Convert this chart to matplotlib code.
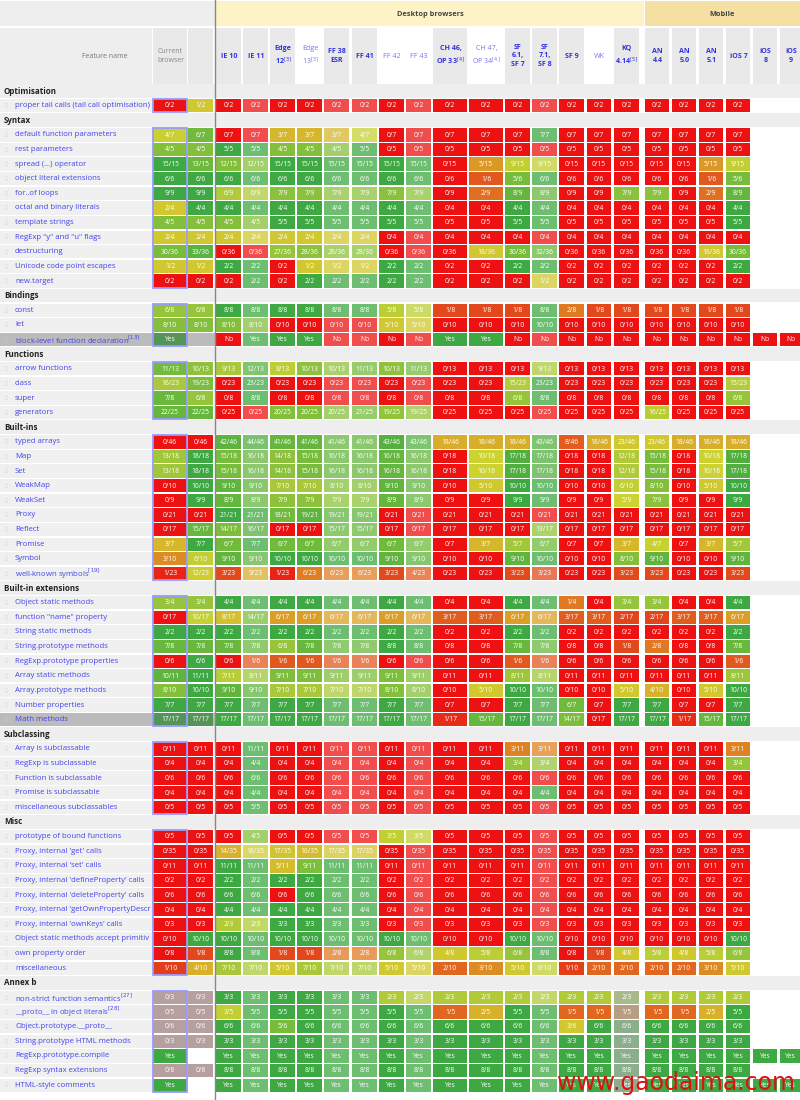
import matplotlib
matplotlib.use("Agg")
import matplotlib.pyplot as plt
from matplotlib.patches import Rectangle
import numpy as np
from matplotlib.colors import to_rgb

FONT = "Open Sans"

columns = ["Current\nbrowser", "", "IE 10", "IE 11", "Edge\n12[3]", "Edge\n13[3]", "FF 38\nESR", "FF 41",
           "FF 42", "FF 43", "CH 46,\nOP 33[4]", "CH 47,\nOP 34[4]", "SF\n6.1,\nSF 7", "SF\n7.1,\nSF 8",
           "SF 9", "WK", "KQ\n4.14[5]", "AN\n4.4", "AN\n5.0", "AN\n5.1", "iOS 7", "iOS\n8", "iOS\n9"]
light_header = {"Edge\n13[3]", "FF 42", "FF 43", "CH 47,\nOP 34[4]", "WK"}
light_cols = {3, 6, 7, 9, 13}

sections = ["Optimisation", "Syntax", "Bindings", "Functions", "Built-ins",
            "Built-in extensions", "Subclassing", "Misc", "Annex b"]

features = {
"Optimisation": ["proper tail calls (tail call optimisation)"],
"Syntax": ["default function parameters", "rest parameters", "spread (...) operator", "object literal extensions",
           "for..of loops", "octal and binary literals", "template strings", "RegExp \"y\" and \"u\" flags",
           "destructuring", "Unicode code point escapes", "new.target"],
"Bindings": ["const", "let", "block-level function declaration[13]"],
"Functions": ["arrow functions", "class", "super", "generators"],
"Built-ins": ["typed arrays", "Map", "Set", "WeakMap", "WeakSet", "Proxy", "Reflect", "Promise", "Symbol",
              "well-known symbols[19]"],
"Built-in extensions": ["Object static methods", "function \"name\" property", "String static methods",
                        "String.prototype methods", "RegExp.prototype properties", "Array static methods",
                        "Array.prototype methods", "Number properties", "Math methods"],
"Subclassing": ["Array is subclassable", "RegExp is subclassable", "Function is subclassable",
                "Promise is subclassable", "miscellaneous subclassables"],
"Misc": ["prototype of bound functions", "Proxy, internal 'get' calls", "Proxy, internal 'set' calls",
         "Proxy, internal 'defineProperty' calls", "Proxy, internal 'deleteProperty' calls",
         "Proxy, internal 'getOwnPropertyDescr", "Proxy, internal 'ownKeys' calls",
         "Object static methods accept primitiv", "own property order", "miscellaneous"],
"Annex b": ["non-strict function semantics[27]", "__proto__ in object literals[28]", "Object.prototype.__proto__",
            "String.prototype HTML methods", "RegExp.prototype.compile", "RegExp syntax extensions",
            "HTML-style comments"],
}

results = {
"Optimisation": [
 "0/2 1/2 0/2 0/2 0/2 0/2 0/2 0/2 0/2 0/2 0/2 0/2 0/2 0/2 0/2 0/2 0/2 0/2 0/2 0/2 0/2 - -"],
"Syntax": [
 "4/7 6/7 0/7 0/7 3/7 3/7 3/7 4/7 0/7 0/7 0/7 0/7 0/7 7/7 0/7 0/7 0/7 0/7 0/7 0/7 0/7 - -",
 "4/5 4/5 5/5 5/5 4/5 4/5 4/5 5/5 0/5 0/5 0/5 0/5 0/5 0/5 0/5 0/5 0/5 0/5 0/5 0/5 0/5 - -",
 "15/15 13/15 12/15 12/15 15/15 15/15 15/15 15/15 15/15 15/15 0/15 5/15 9/15 9/15 0/15 0/15 0/15 0/15 0/15 5/15 9/15 - -",
 "6/6 6/6 6/6 6/6 6/6 6/6 6/6 6/6 6/6 6/6 0/6 1/6 5/6 6/6 0/6 0/6 0/6 0/6 0/6 1/6 5/6 - -",
 "9/9 9/9 6/9 6/9 7/9 7/9 7/9 7/9 7/9 7/9 0/9 2/9 8/9 8/9 0/9 0/9 7/9 7/9 0/9 2/9 8/9 - -",
 "2/4 4/4 4/4 4/4 4/4 4/4 4/4 4/4 4/4 4/4 0/4 0/4 4/4 4/4 0/4 0/4 0/4 0/4 0/4 0/4 4/4 - -",
 "4/5 4/5 4/5 4/5 5/5 5/5 5/5 5/5 5/5 5/5 0/5 0/5 5/5 5/5 0/5 0/5 0/5 0/5 0/5 0/5 5/5 - -",
 "2/4 2/4 2/4 2/4 2/4 2/4 2/4 2/4 0/4 0/4 0/4 0/4 0/4 0/4 0/4 0/4 0/4 0/4 0/4 0/4 0/4 - -",
 "30/36 33/36 0/36 0/36 27/36 28/36 28/36 28/36 0/36 0/36 0/36 18/36 30/36 32/36 0/36 0/36 0/36 0/36 0/36 18/36 30/36 - -",
 "1/2 1/2 2/2 2/2 0/2 1/2 1/2 1/2 2/2 2/2 0/2 0/2 2/2 2/2 0/2 0/2 0/2 0/2 0/2 0/2 2/2 - -",
 "0/2 0/2 0/2 2/2 0/2 2/2 2/2 2/2 2/2 2/2 0/2 0/2 0/2 1/2 0/2 0/2 0/2 0/2 0/2 0/2 0/2 - -"],
"Bindings": [
 "6/8 6/8 8/8 8/8 8/8 8/8 8/8 8/8 5/8 5/8 1/8 1/8 1/8 8/8 2/8 1/8 1/8 1/8 1/8 1/8 1/8 - -",
 "8/10 8/10 8/10 8/10 0/10 0/10 0/10 0/10 5/10 5/10 0/10 0/10 0/10 10/10 0/10 0/10 0/10 0/10 0/10 0/10 0/10 - -",
 "Yes - No Yes Yes Yes No No No No Yes Yes No No No No No No No No No No No"],
"Functions": [
 "11/13 10/13 9/13 12/13 8/13 10/13 10/13 11/13 10/13 11/13 0/13 0/13 0/13 9/13 0/13 0/13 0/13 0/13 0/13 0/13 0/13 - -",
 "16/23 19/23 0/23 23/23 0/23 0/23 0/23 0/23 0/23 0/23 0/23 0/23 15/23 23/23 0/23 0/23 0/23 0/23 0/23 0/23 15/23 - -",
 "7/8 6/8 0/8 8/8 0/8 0/8 0/8 0/8 0/8 0/8 0/8 0/8 6/8 8/8 0/8 0/8 0/8 0/8 0/8 0/8 6/8 - -",
 "22/25 22/25 0/25 0/25 20/25 20/25 20/25 21/25 19/25 19/25 0/25 0/25 0/25 0/25 0/25 0/25 0/25 16/25 0/25 0/25 0/25 - -"],
"Built-ins": [
 "0/46 0/46 42/46 44/46 41/46 41/46 41/46 41/46 43/46 43/46 18/46 18/46 18/46 43/46 8/46 18/46 23/46 23/46 18/46 18/46 18/46 - -",
 "13/18 18/18 15/18 16/18 14/18 15/18 16/18 16/18 16/18 16/18 0/18 10/18 17/18 17/18 0/18 0/18 12/18 15/18 0/18 10/18 17/18 - -",
 "13/18 18/18 15/18 16/18 14/18 15/18 16/18 16/18 16/18 16/18 0/18 10/18 17/18 17/18 0/18 0/18 12/18 15/18 0/18 10/18 17/18 - -",
 "0/10 10/10 9/10 9/10 7/10 7/10 8/10 8/10 9/10 9/10 0/10 5/10 10/10 10/10 0/10 0/10 6/10 8/10 0/10 5/10 10/10 - -",
 "0/9 9/9 8/9 8/9 7/9 7/9 7/9 7/9 8/9 8/9 0/9 0/9 9/9 9/9 0/9 0/9 5/9 7/9 0/9 0/9 9/9 - -",
 "0/21 0/21 21/21 21/21 18/21 19/21 19/21 19/21 0/21 0/21 0/21 0/21 0/21 0/21 0/21 0/21 0/21 0/21 0/21 0/21 0/21 - -",
 "0/17 15/17 14/17 16/17 0/17 0/17 15/17 15/17 0/17 0/17 0/17 0/17 0/17 13/17 0/17 0/17 0/17 0/17 0/17 0/17 0/17 - -",
 "3/7 7/7 6/7 7/7 6/7 6/7 6/7 6/7 6/7 6/7 0/7 3/7 5/7 6/7 0/7 0/7 3/7 4/7 0/7 3/7 5/7 - -",
 "3/10 6/10 9/10 9/10 10/10 10/10 10/10 10/10 9/10 9/10 0/10 0/10 9/10 10/10 0/10 0/10 8/10 9/10 0/10 0/10 9/10 - -",
 "1/23 12/23 3/23 9/23 1/23 6/23 6/23 6/23 3/23 4/23 0/23 0/23 3/23 3/23 0/23 0/23 3/23 3/23 0/23 0/23 3/23 - -"],
"Built-in extensions": [
 "3/4 3/4 4/4 4/4 4/4 4/4 4/4 4/4 4/4 4/4 0/4 0/4 4/4 4/4 1/4 0/4 3/4 3/4 0/4 0/4 4/4 - -",
 "0/17 10/17 8/17 14/17 6/17 6/17 6/17 6/17 6/17 6/17 3/17 3/17 6/17 6/17 3/17 3/17 2/17 2/17 3/17 3/17 6/17 - -",
 "2/2 2/2 2/2 2/2 2/2 2/2 2/2 2/2 2/2 2/2 0/2 0/2 2/2 2/2 0/2 0/2 0/2 0/2 0/2 0/2 2/2 - -",
 "7/8 7/8 7/8 7/8 6/8 7/8 7/8 7/8 8/8 8/8 0/8 0/8 7/8 7/8 0/8 0/8 1/8 2/8 0/8 0/8 7/8 - -",
 "0/6 6/6 0/6 1/6 1/6 1/6 1/6 1/6 0/6 0/6 0/6 0/6 1/6 1/6 0/6 0/6 0/6 0/6 0/6 0/6 1/6 - -",
 "10/11 11/11 7/11 8/11 9/11 9/11 9/11 9/11 9/11 9/11 0/11 0/11 8/11 8/11 0/11 0/11 0/11 0/11 0/11 0/11 8/11 - -",
 "8/10 10/10 9/10 9/10 7/10 7/10 7/10 7/10 8/10 8/10 0/10 5/10 10/10 10/10 0/10 0/10 5/10 4/10 0/10 5/10 10/10 - -",
 "7/7 7/7 7/7 7/7 7/7 7/7 7/7 7/7 7/7 7/7 0/7 0/7 7/7 7/7 6/7 0/7 7/7 7/7 0/7 0/7 7/7 - -",
 "17/17 17/17 17/17 17/17 17/17 17/17 17/17 17/17 17/17 17/17 1/17 15/17 17/17 17/17 14/17 0/17 17/17 17/17 1/17 15/17 17/17 - -"],
"Subclassing": [
 "0/11 0/11 0/11 11/11 0/11 0/11 0/11 0/11 0/11 0/11 0/11 0/11 3/11 3/11 0/11 0/11 0/11 0/11 0/11 0/11 3/11 - -",
 "0/4 0/4 0/4 4/4 0/4 0/4 0/4 0/4 0/4 0/4 0/4 0/4 3/4 3/4 0/4 0/4 0/4 0/4 0/4 0/4 3/4 - -",
 "0/6 0/6 0/6 6/6 0/6 0/6 0/6 0/6 0/6 0/6 0/6 0/6 0/6 0/6 0/6 0/6 0/6 0/6 0/6 0/6 0/6 - -",
 "0/4 0/4 0/4 4/4 0/4 0/4 0/4 0/4 0/4 0/4 0/4 0/4 0/4 4/4 0/4 0/4 0/4 0/4 0/4 0/4 0/4 - -",
 "0/5 0/5 0/5 5/5 0/5 0/5 0/5 0/5 0/5 0/5 0/5 0/5 0/5 0/5 0/5 0/5 0/5 0/5 0/5 0/5 0/5 - -"],
"Misc": [
 "0/5 0/5 0/5 4/5 0/5 0/5 0/5 0/5 3/5 3/5 0/5 0/5 0/5 0/5 0/5 0/5 0/5 0/5 0/5 0/5 0/5 - -",
 "0/35 0/35 14/35 18/35 17/35 16/35 17/35 17/35 0/35 0/35 0/35 0/35 0/35 0/35 0/35 0/35 0/35 0/35 0/35 0/35 0/35 - -",
 "0/11 0/11 11/11 11/11 5/11 9/11 11/11 11/11 0/11 0/11 0/11 0/11 0/11 0/11 0/11 0/11 0/11 0/11 0/11 0/11 0/11 - -",
 "0/2 0/2 2/2 2/2 2/2 2/2 2/2 2/2 0/2 0/2 0/2 0/2 0/2 0/2 0/2 0/2 0/2 0/2 0/2 0/2 0/2 - -",
 "0/6 0/6 6/6 6/6 0/6 6/6 6/6 6/6 0/6 0/6 0/6 0/6 0/6 0/6 0/6 0/6 0/6 0/6 0/6 0/6 0/6 - -",
 "0/4 0/4 4/4 4/4 4/4 4/4 4/4 4/4 0/4 0/4 0/4 0/4 0/4 0/4 0/4 0/4 0/4 0/4 0/4 0/4 0/4 - -",
 "0/3 0/3 2/3 2/3 3/3 3/3 3/3 3/3 0/3 0/3 0/3 0/3 0/3 0/3 0/3 0/3 0/3 0/3 0/3 0/3 0/3 - -",
 "0/10 10/10 10/10 10/10 10/10 10/10 10/10 10/10 10/10 10/10 0/10 0/10 10/10 10/10 0/10 0/10 0/10 0/10 0/10 0/10 10/10 - -",
 "0/8 1/8 8/8 8/8 1/8 1/8 2/8 2/8 6/8 6/8 4/8 5/8 6/8 8/8 0/8 1/8 4/8 5/8 4/8 5/8 6/8 - -",
 "1/10 4/10 7/10 7/10 5/10 7/10 7/10 7/10 5/10 5/10 2/10 3/10 5/10 6/10 1/10 2/10 2/10 2/10 2/10 3/10 5/10 - -"],
"Annex b": [
 "0/3 0/3 3/3 3/3 3/3 3/3 3/3 3/3 2/3 2/3 2/3 2/3 2/3 2/3 2/3 2/3 2/3 2/3 2/3 2/3 2/3 - -",
 "0/5 0/5 3/5 5/5 5/5 5/5 5/5 5/5 5/5 5/5 1/5 2/5 5/5 5/5 1/5 1/5 1/5 1/5 1/5 2/5 5/5 - -",
 "0/6 0/6 6/6 6/6 5/6 6/6 6/6 6/6 6/6 6/6 6/6 6/6 6/6 6/6 3/6 6/6 6/6 6/6 6/6 6/6 6/6 - -",
 "0/3 0/3 3/3 3/3 3/3 3/3 3/3 3/3 3/3 3/3 3/3 3/3 3/3 3/3 3/3 3/3 3/3 3/3 3/3 3/3 3/3 - -",
 "Yes - Yes Yes Yes Yes Yes Yes Yes Yes Yes Yes Yes Yes Yes Yes Yes Yes Yes Yes Yes Yes Yes",
 "0/8 0/8 8/8 8/8 8/8 8/8 8/8 8/8 8/8 8/8 8/8 8/8 8/8 8/8 8/8 8/8 8/8 8/8 8/8 8/8 8/8 - -",
 "Yes - Yes Yes Yes Yes Yes Yes Yes Yes Yes Yes Yes Yes Yes Yes Yes Yes Yes Yes Yes Yes Yes"],
}

# ---------------- layout ----------------
col_x = [153, 188, 216, 243, 270, 297, 324, 352, 379, 406, 433, 469, 505, 532, 559, 587, 614,
         645, 672, 699, 726, 753, 780]
col_w = [35, 26, 26, 26, 26, 26, 26, 26, 26, 26, 35, 35, 26, 26, 26, 25, 26, 25, 25, 25, 25, 25, 22]
Y0, DY, CH = 91.0, 14.62, 13.3

stops = [(0.0, "#ee1111"), (0.12, "#e2461c"), (0.25, "#e07a22"), (0.4, "#d8b02a"),
         (0.55, "#cdd330"), (0.7, "#a8c83a"), (0.85, "#72bb3c"), (1.0, "#3ea843")]
def frac_color(f):
    for (a, ca), (b, cb) in zip(stops[:-1], stops[1:]):
        if f <= b:
            t = (f - a) / (b - a) if b > a else 0
            return tuple(np.array(to_rgb(ca)) * (1 - t) + np.array(to_rgb(cb)) * t)
    return to_rgb(stops[-1][1])

def lighten(c, k):
    return tuple(np.array(c) * (1 - k) + k)

fig = plt.figure(figsize=(8, 11), dpi=100)
ax = fig.add_axes([0, 0, 1, 1])
ax.set_xlim(0, 800); ax.set_ylim(1100, 0); ax.axis("off")
fig.patch.set_facecolor("white")

def rect(x, y, w, h, fc, ec="none", lw=0, z=1):
    ax.add_patch(Rectangle((x, y), w, h, facecolor=fc, edgecolor=ec, linewidth=lw, zorder=z))

# header
rect(0, 1, 215, 25, "#eeeeee")
rect(216, 1, 428, 25, "#fdf3c6")
rect(645, 1, 155, 25, "#f6dfa2")
ax.text(430, 14, "Desktop browsers", ha="center", va="center", fontsize=5.3, fontweight="bold",
        family=FONT, color="#444444")
ax.text(722, 14, "Mobile", ha="center", va="center", fontsize=5.3, fontweight="bold",
        family=FONT, color="#444444")
rect(0, 28, 152, 56, "#eeeeee")
ax.text(105, 56, "Feature name", ha="center", va="center", fontsize=5, family=FONT, color="#777777")
for i, (lab, x, w) in enumerate(zip(columns, col_x, col_w)):
    light = lab in light_header
    rect(x, 28, w - 1, 56, "white" if light else "#e9e9e9")
    if i == 0:
        ax.text(x + w / 2, 56, lab, ha="center", va="center", fontsize=5, family=FONT,
                color="#888888", linespacing=1.3)
        continue
    if not lab:
        continue
    txt = lab.replace("[3]", "$^{[3]}$").replace("[4]", "$^{[4]}$").replace("[5]", "$^{[5]}$")
    ax.text(x + w / 2, 56, txt, ha="center", va="center", fontsize=5.1, family=FONT,
            fontweight="normal" if light else "bold",
            color="#7777ee" if light else "#3333dd", linespacing=1.35)
ax.plot([215, 215], [0, 1100], color="#888888", lw=1.0, zorder=6)

# body
line = 0
for sec in sections:
    yc = Y0 + line * DY
    rect(0, yc - DY / 2 + 0.5, 800, DY - 1, "#eeeeee", z=0)
    ax.text(4, yc, sec, ha="left", va="center", fontsize=5.8, fontweight="bold",
            family=FONT, color="#222222")
    line += 1
    for name, row in zip(features[sec], results[sec]):
        yc = Y0 + line * DY
        hover = name.startswith("block-level") or name == "Math methods"
        rect(0, yc - CH / 2, 152, CH, "#bbbbbb" if hover else "#f0f0f0", z=0)
        if hover:
            rect(152, yc - CH / 2, 63, CH, "#bbbbbb", z=0)
        label = name.replace("[13]", "$^{[13]}$").replace("[19]", "$^{[19]}$") \
                    .replace("[27]", "$^{[27]}$").replace("[28]", "$^{[28]}$")
        ax.text(5, yc, "\u25AF", ha="left", va="center", fontsize=3.5, color="#cccccc", family="DejaVu Sans")
        t = ax.text(15, yc, label, ha="left", va="center", fontsize=5.6, family=FONT,
                    color="#4444ee", clip_on=True)
        t.set_clip_path(Rectangle((0, 0), 152, 1100, transform=ax.transData))
        vals = row.split()
        for j, v in enumerate(vals):
            if v == "-":
                continue
            x, w = col_x[j], col_w[j]
            if v == "Yes":
                c = frac_color(1.0)
            elif v == "No":
                c = frac_color(0.0)
            else:
                a, b = v.split("/")
                c = frac_color(int(a) / int(b))
            if j in light_cols:
                c = lighten(c, 0.25)
            if sec == "Annex b" and j < 2 and v != "Yes":
                c = to_rgb("#b5a09f")
            if sec == "Annex b" and j == 16:
                c = lighten(tuple(np.array(c) * 0.3 + np.array(to_rgb("#9aa69a")) * 0.7), 0.1)
            if hover and j < 2:
                c = tuple(np.array(c) * 0.6 + np.array(to_rgb("#777777")) * 0.4)
            rect(x, yc - CH / 2, w - 1, CH, c, z=2)
            ax.text(x + (w - 1) / 2, yc + 0.3, v, ha="center", va="center", fontsize=4.9,
                    family=FONT, color="white", zorder=3)
        line += 1

# current-browser column border per section
line = 0
for sec in sections:
    line += 1
    n = len(features[sec])
    top = Y0 + line * DY - CH / 2
    h = (n - 1) * DY + CH
    rect(col_x[0], top, col_w[0] - 1, h, "none", ec="#9999ff", lw=1.3, z=4)
    line += n

ax.text(795, 1083, "www.gaodaima.com", ha="right", va="center", fontsize=17,
        family="DejaVu Sans", color="#dd1111", zorder=7)

fig.savefig("out.png", dpi=100)
